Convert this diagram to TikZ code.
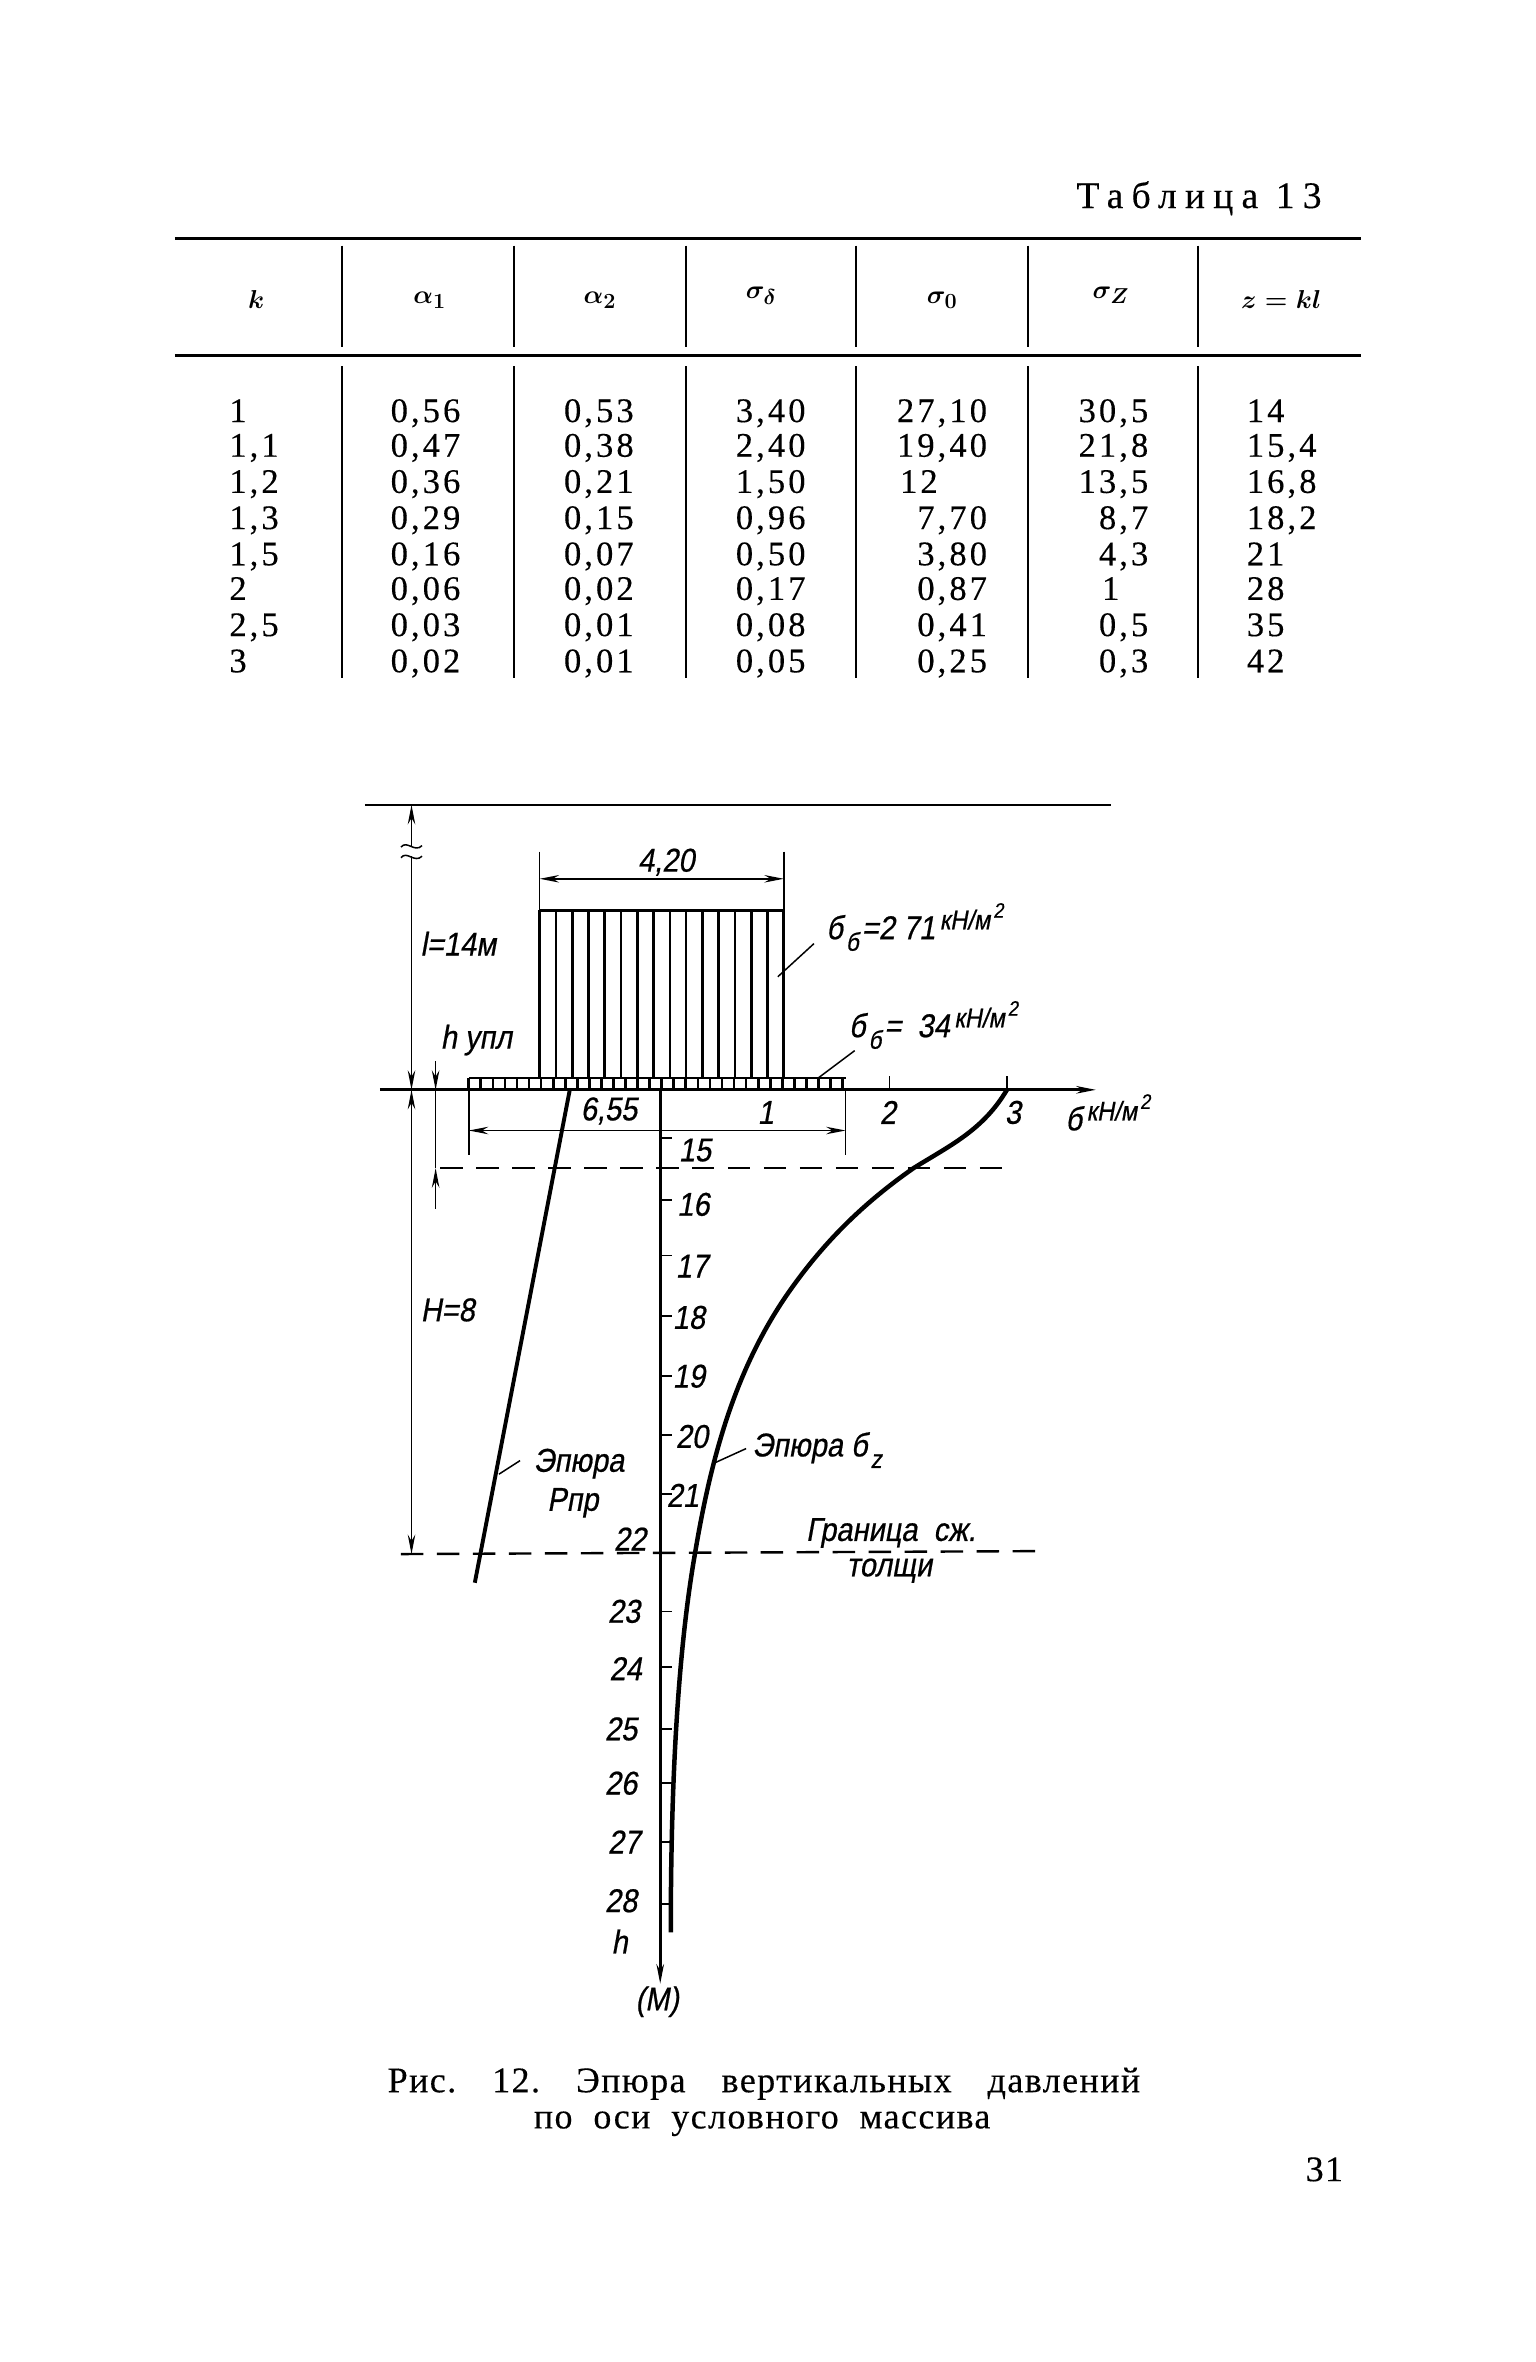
\documentclass[tikz,border=0pt]{standalone}
\usepackage{fontspec}
\usepackage{amsmath}
\setmainfont{Liberation Serif}
\newfontfamily\tabfamily[LetterSpace=9,FakeBold=0.3]{Liberation Serif}
\newfontfamily\captfamily[LetterSpace=4,FakeBold=0.3]{Liberation Serif}
\newfontfamily\titlefamily[LetterSpace=22,FakeBold=0.3]{Liberation Serif}
\newfontfamily\handfamily[FakeStretch=0.88,FakeSlant=0.18,FakeBold=0.6]{Liberation Sans}
\usetikzlibrary{arrows.meta}
\newcommand{\lowmark}[1]{\hspace{2pt}\raisebox{-.35em}{\fontsize{17}{18}\selectfont #1}\hspace{2pt}}
\newcommand{\highmark}[1]{\hspace{3pt}\raisebox{.3em}{\fontsize{18}{19}\selectfont #1}\hspace{2pt}\raisebox{.65em}{\fontsize{14}{15}\selectfont 2}}
\tikzset{
	tabtext/.style={font=\fontsize{23}{24}\selectfont\tabfamily,inner sep=0pt},
	headtext/.style={font=\fontsize{19}{20}\selectfont\boldmath,inner sep=0pt},
	hand/.style={font=\fontsize{22}{23}\selectfont\handfamily,inner sep=0pt},
	capt/.style={font=\fontsize{24}{25}\selectfont\captfamily,inner sep=0pt,anchor=base west},
	rulebar/.style={line width=2pt},
	cell/.style={line width=1.2pt},
	axisline/.style={line width=1.8pt},
	thin dim/.style={line width=1pt},
	hatch/.style={line width=1.8pt},
	curveline/.style={line width=3pt},
	cutline/.style={line width=1.6pt,dash pattern=on 15pt off 9pt},
}
\begin{document}
\begin{tikzpicture}[x=1.0055pt,y=-1.0055pt,>={Stealth[length=13pt,width=5pt]}]
			\useasboundingbox (0,0) rectangle (1018.4,1567);
			% table
			\node[capt,font=\fontsize{25}{26}\selectfont\titlefamily] (tabtitle) at (714,138) {Таблица 13};
			\draw[rulebar] (116,158) -- (903,158);
			\draw[rulebar] (116,236) -- (903,236);
			\foreach \vx in {227,341,455,568,682,795} {
				\draw[cell] (\vx,163) -- (\vx,230);
				\draw[cell] (\vx,243) -- (\vx,450);
			}
			\node[headtext] (hk) at (170,199) {$k$};
			\node[headtext] (ha) at (285,199) {$\alpha_1$};
			\node[headtext] (hb) at (398,199) {$\alpha_2$};
			\node[headtext] (hc) at (505,196) {$\sigma_\delta$};
			\node[headtext] (hd) at (625,199) {$\sigma_0$};
			\node[headtext] (he) at (737,196) {$\sigma_Z$};
			\node[headtext] (hf) at (850,199) {$z=kl$};
			\foreach \rowid/\rowy/\colK/\colA/\colB/\colC/\colD/\colE/\colF in {
				1/280/{1}/{0,56}/{0,53}/{3,40}/{27,10}/{30,5}/{14},
				2/303/{1,1}/{0,47}/{0,38}/{2,40}/{19,40}/{21,8}/{15,4},
				3/327/{1,2}/{0,36}/{0,21}/{1,50}/{12\phantom{,00}}/{13,5}/{16,8},
				4/351/{1,3}/{0,29}/{0,15}/{0,96}/{7,70}/{8,7}/{18,2},
				5/375/{1,5}/{0,16}/{0,07}/{0,50}/{3,80}/{4,3}/{21},
				6/398/{2}/{0,06}/{0,02}/{0,17}/{0,87}/{1\phantom{,0}}/{28},
				7/422/{2,5}/{0,03}/{0,01}/{0,08}/{0,41}/{0,5}/{35},
				8/446/{3}/{0,02}/{0,01}/{0,05}/{0,25}/{0,3}/{42}} {
				\node[tabtext,anchor=base west] (k\rowid) at (152,\rowy) {\colK};
				\node[tabtext,anchor=base west] (a\rowid) at (259,\rowy) {\colA};
				\node[tabtext,anchor=base west] (b\rowid) at (374,\rowy) {\colB};
				\node[tabtext,anchor=base west] (c\rowid) at (488,\rowy) {\colC};
				\node[tabtext,anchor=base east] (d\rowid) at (655,\rowy) {\colD};
				\node[tabtext,anchor=base east] (e\rowid) at (762,\rowy) {\colE};
				\node[tabtext,anchor=base west] (f\rowid) at (827,\rowy) {\colF};
			}
			% load diagram
			\coordinate (topl) at (242,534);
			\coordinate (topr) at (737,534);
			\coordinate (dimtop) at (273,534);
			\coordinate (breaka) at (273,562);
			\coordinate (breakb) at (273,568);
			\coordinate (dimfoot) at (273,723);
			\coordinate (dimlow) at (273,1031);
			\coordinate (axisl) at (252,723);
			\coordinate (axisr) at (727,723);
			\coordinate (axistop) at (438,723);
			\coordinate (axisend) at (438,1316);
			\draw[line width=1.3pt] (topl) -- (topr);
			\draw[thin dim,<-] (dimtop) -- (breaka);
			\draw[thin dim,->] (breakb) -- (dimfoot);
			\draw[thin dim,<->] (dimfoot) -- (dimlow);
			\draw[thin dim] (266,562) .. controls (270,557) and (275,566) .. (280,561);
			\draw[thin dim] (266,569) .. controls (270,564) and (275,573) .. (280,568);
			\draw[axisline,->] (axisl) -- (axisr);
			\draw[axisline,->] (axistop) -- (axisend);
			% stress block
			\coordinate (bla) at (358,604);
			\coordinate (blb) at (520,604);
			\coordinate (baa) at (311,715);
			\coordinate (bab) at (561,715);
			\draw[line width=2.2pt] (bla) -- (blb);
			\foreach \hx in {358,368.8,...,521} {
				\draw[hatch] (\hx,604) -- (\hx,715);
			}
			\draw[line width=1.6pt] (baa) -- (bab);
			\foreach \hx in {311,319,...,562} {
				\draw[hatch] (\hx,715) -- (\hx,723);
			}
			\coordinate (exa) at (358,565);
			\coordinate (exb) at (520,565);
			\coordinate (dima) at (358,583);
			\coordinate (dimb) at (520,583);
			\draw[thin dim] (exa) -- (bla);
			\draw[thin dim] (exb) -- (blb);
			\draw[thin dim,<->] (dima) -- (dimb);
			\node[hand] (width) at (442,572) {4,20};
			% scale marks
			\coordinate (exc) at (311,766);
			\coordinate (exd) at (561,766);
			\coordinate (dimc) at (311,750);
			\coordinate (dimd) at (561,750);
			\draw[thin dim] (311,723) -- (exc);
			\draw[thin dim] (561,723) -- (exd);
			\draw[thin dim,<->] (dimc) -- (dimd);
			\draw[thin dim] (590,714) -- (590,723);
			\draw[thin dim] (668,714) -- (668,723);
			\node[hand] (mark1) at (508,738) {1};
			\node[hand] (mark2) at (589,738) {2};
			\node[hand] (mark3) at (672,738) {3};
			\node[hand] (width2) at (404,737) {6,55};
			\node[hand] (unit) at (735,738) {б\highmark{кН/м}};
			% h upl
			\coordinate (hua) at (289,704);
			\coordinate (hub) at (289,723);
			\coordinate (huc) at (289,775);
			\coordinate (hud) at (289,802);
			\draw[thin dim,->] (hua) -- (hub);
			\draw[thin dim,->] (hud) -- (huc);
			\draw[thin dim] (hub) -- (huc);
			\coordinate (cutal) at (292,775);
			\coordinate (cutar) at (665,775);
			\coordinate (cutbl) at (266,1031);
			\coordinate (cutbr) at (695,1029);
			\draw[cutline] (cutal) -- (cutar);
			\draw[cutline] (cutbl) -- (cutbr);
			% depth ticks
			\foreach \tid/\ty/\lx/\ly in {15/755/461/763,16/796/460/799,17/833/459/840,18/873/457/874,19/913/457/913,20/952/459/953,21/991/453/992} {
				\coordinate (ta\tid) at (438,\ty);
				\coordinate (tb\tid) at (446,\ty);
				\draw[thin dim] (ta\tid) -- (tb\tid);
				\node[hand] (d\tid) at (\lx,\ly) {\tid};
			}
			\foreach \tid/\ty/\lx/\ly in {23/1069/414/1069,24/1106/415/1107,25/1147/412/1147,26/1183/412/1183,27/1222/414/1222,28/1263/412/1261} {
				\coordinate (ta\tid) at (438,\ty);
				\coordinate (tb\tid) at (446,\ty);
				\draw[thin dim] (ta\tid) -- (tb\tid);
				\node[hand] (d\tid) at (\lx,\ly) {\tid};
			}
			\node[hand] (d22) at (418,1021) {22};
			\node[hand] (depth) at (411,1288) {h};
			\node[hand] (meter) at (436,1328) {(М)};
			% diagrams
			\coordinate (ppa) at (378,723);
			\coordinate (ppb) at (315,1050);
			\draw[curveline,line width=2.6pt] (ppa) -- (ppb);
			\coordinate (sza) at (668,723);
			\coordinate (szb) at (606,775);
			\coordinate (szc) at (520,862);
			\coordinate (szd) at (461,1031);
			\coordinate (sze) at (445,1282);
			\draw[curveline] (sza) .. controls (652,750) and (630,760) .. (szb)
				.. controls (573,798) and (545,825) .. (szc)
				.. controls (488,910) and (472,965) .. (szd)
				.. controls (449,1100) and (445,1190) .. (sze);
			% labels
			\node[hand] (lablen) at (304,626) {l=14м};
			\node[hand] (labhu) at (316,690) {h упл};
			\node[hand] (labh) at (297,869) {Н=8};
			\node[hand,anchor=west] (labsb) at (548,615) {б\lowmark{б}=2 71\highmark{кН/м}};
			\node[hand,anchor=west] (labsd) at (563,680) {б\lowmark{б}= \ 34\highmark{кН/м}};
			\coordinate (lea) at (540,626);
			\coordinate (leb) at (516,648);
			\coordinate (lec) at (567,697);
			\coordinate (led) at (543,715);
			\draw[thin dim] (lea) -- (leb);
			\draw[thin dim] (lec) -- (led);
			\node[hand] (labpa) at (384,971) {Эпюра};
			\node[hand] (labpb) at (380,997) {Рпр};
			\coordinate (lee) at (331,978);
			\coordinate (lef) at (345,969);
			\draw[thin dim] (lee) -- (lef);
			\node[hand] (labz) at (542,962) {Эпюра б\lowmark{z}};
			\coordinate (leg) at (473,971);
			\coordinate (leh) at (495,961);
			\draw[thin dim] (leg) -- (leh);
			\node[hand] (labgr) at (591,1017) {Граница \ сж.};
			\node[hand] (labtol) at (590,1042) {толщи};
			% caption
			\node[capt] (caption) at (257,1388) {Рис.\hspace{24pt}12.\hspace{24pt}Эпюра\hspace{24pt}вертикальных\hspace{24pt}давлений};
			\node[capt] (captiontwo) at (354,1412) {по\ \ оси\ \ условного\ \ массива};
			\node[capt] (pageno) at (866,1447) {31};
		\end{tikzpicture}
\end{document}
